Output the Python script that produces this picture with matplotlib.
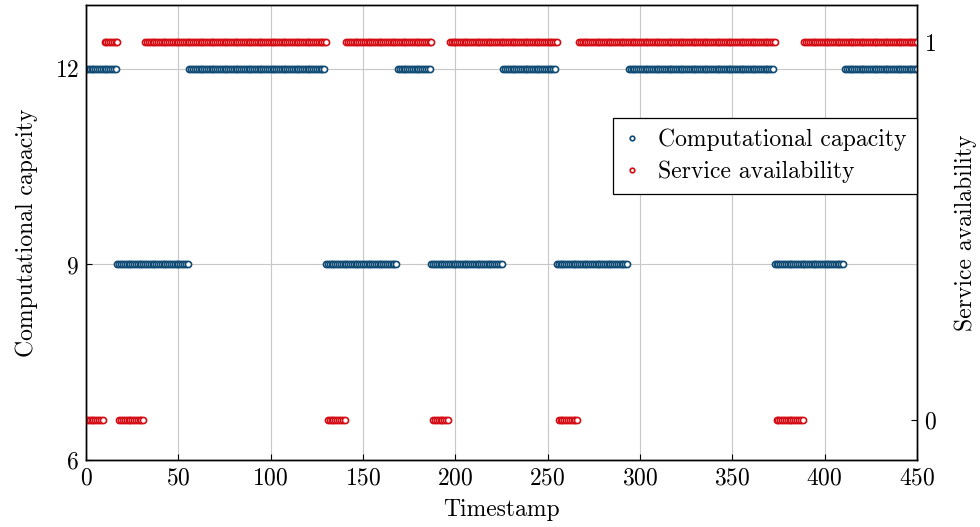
import numpy as np
import matplotlib
matplotlib.use("Agg")
import matplotlib.pyplot as plt

plt.rcParams["font.family"] = "serif"
plt.rcParams["font.serif"] = ["cmr10", "DejaVu Serif"]
plt.rcParams["axes.formatter.use_mathtext"] = True
plt.rcParams["mathtext.fontset"] = "cm"

## Run-length description of both series (first timestamp of each run + value)
timestamps = np.arange(0, 451)

capacity_starts = [0, 17, 56, 130, 169, 187, 226, 255, 294, 373, 411]
capacity_levels = [12, 9, 12, 9, 12, 9, 12, 9, 12, 9, 12]

service_starts = [0, 10, 18, 32, 131, 141, 188, 197, 256, 267, 374, 389]
service_levels = [0, 1, 0, 1, 0, 1, 0, 1, 0, 1, 0, 1]


def expand(starts, levels, t):
    """ Expand run starts / levels into one value per timestamp """
    idx = np.searchsorted(starts, t, side="right") - 1
    return np.asarray(levels)[idx]


capacity = expand(capacity_starts, capacity_levels, timestamps)
service = expand(service_starts, service_levels, timestamps)

blue = "#0e4a74"
red = "#d40b12"
fs = 17

fig = plt.figure(figsize=(9.8, 5.27), dpi=100)
ax = fig.add_axes([0.0878, 0.1271, 0.8479, 0.8634])
ax2 = ax.twinx()

mk = dict(marker="o", linestyle="none", markersize=4.4,
          markerfacecolor="white", markeredgewidth=1.2)

h1, = ax.plot(timestamps, capacity, color=blue, markeredgecolor=blue,
              label="Computational capacity", **mk)
h2, = ax2.plot(timestamps, service, color=red, markeredgecolor=red,
               label="Service availability", **mk)

ax.set_xlim(0, 450)
ax.set_ylim(6, 12.98)
ax2.set_ylim(-0.106, 1.098)

ax.set_xticks([0, 50, 100, 150, 200, 250, 300, 350, 400, 450])
ax.set_yticks([6, 9, 12])
ax2.set_yticks([0, 1])

ax.grid(True, color="#c8c8c8", linewidth=0.8)
ax.set_axisbelow(True)

for a in (ax, ax2):
    a.tick_params(direction="in", length=4, width=0.8, labelsize=fs, pad=5)
    for s in a.spines.values():
        s.set_linewidth(1.0)
        s.set_color("black")

ax.set_xlabel("Timestamp", fontsize=fs, labelpad=7)
ax.set_ylabel("Computational capacity", fontsize=fs, labelpad=12)
ax2.set_ylabel("Service availability", fontsize=fs, labelpad=13)

leg = ax2.legend(handles=[h1, h2], loc="upper right",
                 bbox_to_anchor=(1.0, 0.7516), fontsize=fs,
                 fancybox=False, framealpha=1, edgecolor="black",
                 handlelength=0.7, handletextpad=0.75, borderpad=0.45,
                 labelspacing=0.4, markerscale=0.75, borderaxespad=0)
leg.get_frame().set_linewidth(0.9)

fig.savefig("out.png", dpi=100)
